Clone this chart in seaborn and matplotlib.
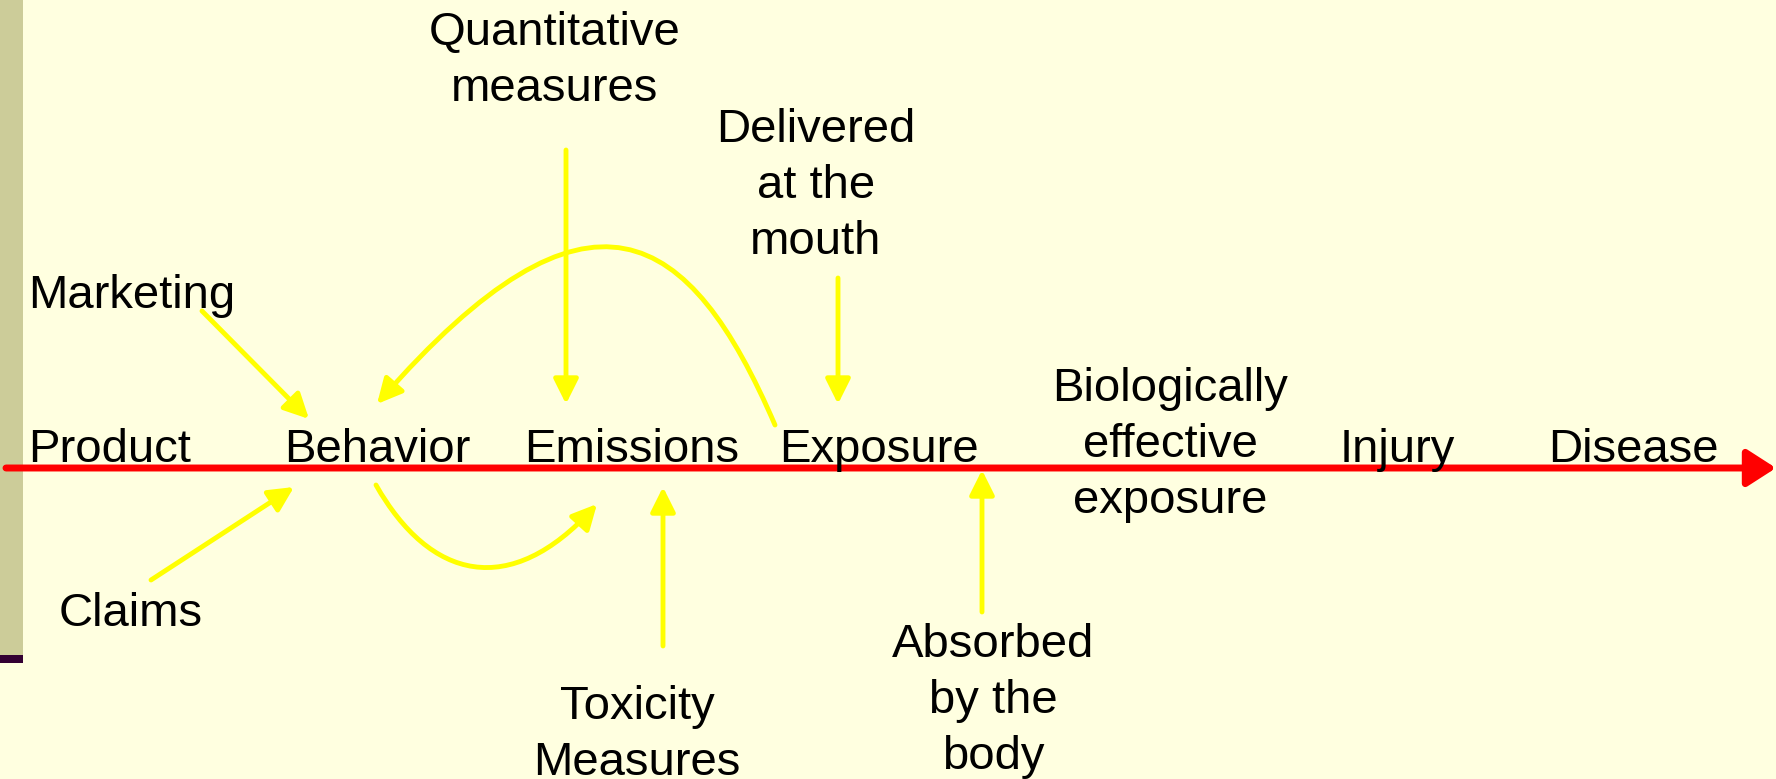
import numpy as np
import matplotlib
matplotlib.use("Agg")
import matplotlib.pyplot as plt
import seaborn as sns
from matplotlib.patches import FancyArrowPatch, Rectangle
from matplotlib.path import Path

# Stages along the red causal line
STAGES = ["Product", "Behavior", "Emissions", "Exposure",
          "Biologically\neffective\nexposure", "Injury", "Disease"]

# Influences pointing into the stages
INFLUENCES = ["Marketing", "Claims", "Quantitative\nmeasures",
              "Delivered\nat the\nmouth", "Toxicity\nMeasures",
              "Absorbed\nby the\nbody"]

# layout (canvas pixels, y downward)
W, H = 1776, 779
LINE_Y = 468
LINE_STEP = 56
stage_x = [110, 377, 632, 879, 1170, 1397, 1633]
stage_base = [462, 462, 462, 462, 401, 462, 462]
infl_xy = [(28, 308, "left"), (131, 626, "center"), (555, 45, "center"),
           (816, 142, "center"), (637, 719, "center"), (993, 657, "center")]

# straight yellow arrows: (start, end)
straight = [((202, 311), (309, 419)),   # Marketing -> Behavior
            ((151, 580), (294, 487)),   # Claims -> Behavior
            ((566, 150), (566, 404)),   # Quantitative -> Emissions
            ((838, 278), (838, 404)),   # Delivered -> Exposure
            ((663, 646), (663, 487)),   # Toxicity -> Emissions
            ((982, 612), (982, 470))]   # Absorbed -> Exposure

# curved feedback arrows (cubic bezier control points)
curves = [[(775, 425), (690, 228), (590, 160), (377, 404)],   # Exposure -> Behavior
          [(376, 485), (430, 580), (510, 600), (597, 504)]]   # Behavior -> Emissions

BG = "#FFFFE0"
YELLOW = "#FFFF00"

sns.set_theme(style="white")
plt.rcParams["font.family"] = ["Liberation Sans", "DejaVu Sans"]

fig = plt.figure(figsize=(17.76, 7.79), dpi=100, facecolor=BG)
ax = fig.add_axes([0, 0, 1, 1])
ax.set_facecolor(BG)
ax.set_xlim(0, W)
ax.set_ylim(H, 0)
ax.axis("off")

# slide decoration on the left
ax.add_patch(Rectangle((0, 0), 23, 655, color="#CCCC99", lw=0))
ax.add_patch(Rectangle((0, 655), 23, 8, color="#330033", lw=0))

# red main arrow
ax.add_patch(FancyArrowPatch((6, LINE_Y), (1776, LINE_Y),
                             arrowstyle="-|>,head_length=0.7,head_width=0.45",
                             mutation_scale=25, color="#FF0000", lw=5,
                             shrinkA=0, shrinkB=0))


def put_text(label, x, y0, ha):
    for i, line in enumerate(label.split("\n")):
        ax.text(x, y0 + i * LINE_STEP, line, ha=ha, va="baseline",
                fontsize=34, color="black")


for label, x, y0 in zip(STAGES, stage_x, stage_base):
    put_text(label, x, y0, "center")

for label, (x, y0, ha) in zip(INFLUENCES, infl_xy):
    put_text(label, x, y0, ha)

head = "-|>,head_length=0.6,head_width=0.3"
for a, b in straight:
    ax.add_patch(FancyArrowPatch(a, b, arrowstyle=head, mutation_scale=25,
                                 color=YELLOW, lw=3.5, shrinkA=0, shrinkB=0))

for pts in curves:
    path = Path(pts, [Path.MOVETO, Path.CURVE4, Path.CURVE4, Path.CURVE4])
    ax.add_patch(FancyArrowPatch(path=path, arrowstyle=head, mutation_scale=25,
                                 color=YELLOW, lw=3.5))

fig.savefig("out.png", dpi=100, facecolor=BG)
